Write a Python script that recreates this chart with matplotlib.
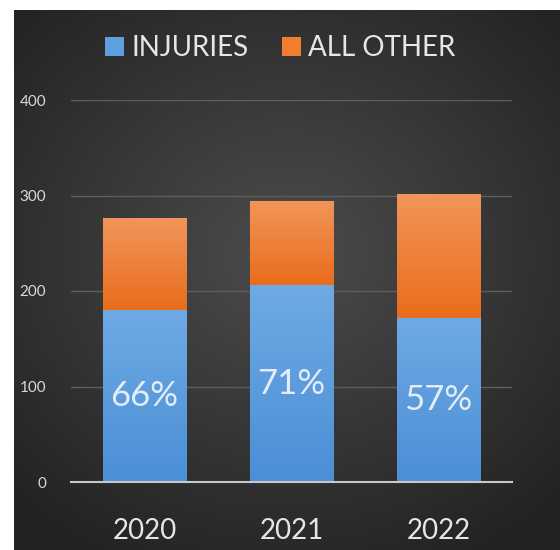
import matplotlib
matplotlib.use('Agg')
import matplotlib.pyplot as plt
import numpy as np

years = ['2020', '2021', '2022']
injuries = [180, 206, 172]
all_other = [96, 88, 130]
pct_labels = ['66%', '71%', '57%']

plt.rcParams['font.family'] = ['Lato', 'DejaVu Sans']

fig = plt.figure(figsize=(5.6, 5.5), dpi=100)
fig.patch.set_facecolor('white')

# dark panel with a soft radial glow
bg = fig.add_axes([14 / 560, 0, 546 / 560, 540 / 550])
yy, xx = np.mgrid[-1:1:300j, -1:1:300j]
r = np.sqrt((xx * 1.0) ** 2 + ((yy + 0.1) * 1.1) ** 2)
glow = np.clip(1 - r / 1.4, 0, 1)
bg.imshow(glow, cmap=matplotlib.colors.LinearSegmentedColormap.from_list('g', ['#232323', '#4c4c4c']),
          aspect='auto', extent=[0, 1, 0, 1], interpolation='bicubic')
bg.axis('off')

ax = fig.add_axes([71 / 560, 68 / 550, 441 / 560, 382 / 550])
ax.set_facecolor('none')

x = np.arange(len(years))
w = 0.565
b1 = ax.bar(x, injuries, w, color='#5e9fe0', label='INJURIES', zorder=3)
b2 = ax.bar(x, all_other, w, bottom=injuries, color='#f07e2e', label='ALL OTHER', zorder=3)

# vertical shading on each bar
for bars, top_c, bot_c in [(b1, '#6eaae4', '#4b8fd6'), (b2, '#f2955a', '#e96d1c')]:
    cm = matplotlib.colors.LinearSegmentedColormap.from_list('b', [bot_c, top_c])
    for p in bars:
        x0, y0 = p.get_x(), p.get_y()
        grad = np.linspace(0, 1, 100).reshape(-1, 1)
        im = ax.imshow(grad, cmap=cm, origin='lower', aspect='auto',
                       extent=[x0, x0 + p.get_width(), y0, y0 + p.get_height()], zorder=3.5)
        im.set_clip_path(p)

ax.bar_label(b1, labels=pct_labels, label_type='center', color='#e3ecf7', fontsize=25, zorder=5)

ax.set_xlim(-0.5, 2.5)
ax.set_ylim(0, 400)
ax.set_yticks([0, 100, 200, 300, 400])
ax.set_xticks(x)
ax.set_xticklabels(years)
ax.grid(axis='y', color='#5e5e5e', linewidth=1, zorder=0)
ax.tick_params(axis='y', length=0, pad=18, labelsize=11, labelcolor='#d9d9d9')
ax.tick_params(axis='x', length=0, pad=26, labelsize=20, labelcolor='#e6e6e6')
for s in ['top', 'right', 'left']:
    ax.spines[s].set_visible(False)
ax.spines['bottom'].set_color('#c8c8c8')
ax.spines['bottom'].set_linewidth(1.5)
ax.spines['bottom'].set_zorder(4)

leg = fig.legend(loc='center', bbox_to_anchor=(0.5, 1 - 48 / 550), ncol=2, frameon=False,
                 fontsize=20, labelcolor='#e6e6e6', handlelength=0.7, handleheight=0.7,
                 handletextpad=0.25, columnspacing=1.2)

fig.savefig('out.png', dpi=100)
